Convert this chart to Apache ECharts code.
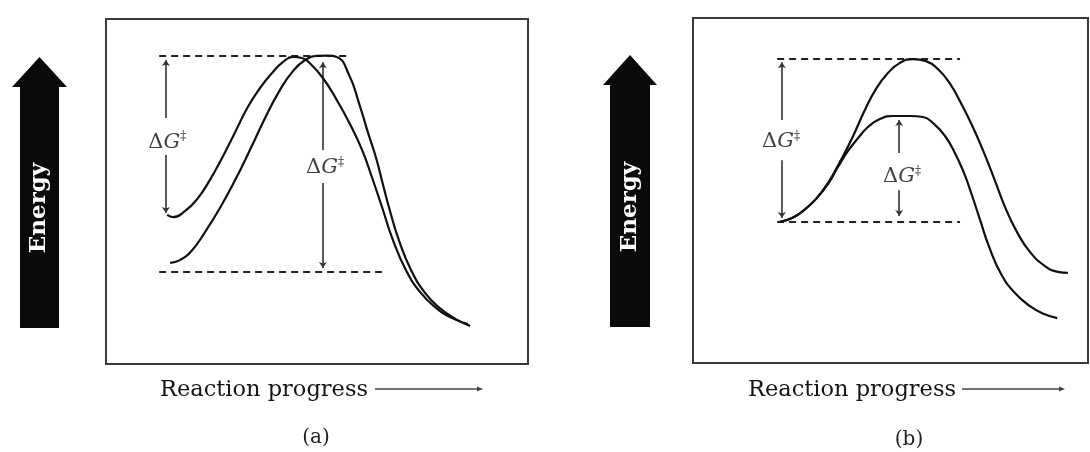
<!DOCTYPE html>
<html>
<head>
<meta charset="utf-8">
<script src="https://cdn.jsdelivr.net/npm/echarts@6/dist/echarts.min.js"></script>
<style>
  html, body { margin: 0; padding: 0; background: #fff; }
  #main { width: 1090px; height: 452px; }
</style>
</head>
<body>
<div id="main"></div>
<script>
// units: x = reaction progress 0-100, y = energy 0-100 (inside each box)

// panel (a): substrate raised, same transition state
var curveA1 = [[14.5, 43.2], [15.9, 42.6], [18.7, 44.3], [21.6, 47.8], [24.6, 53.3], [27.5, 59.7], [30.6, 67.2], [33.6, 74.5], [36.5, 80.0], [39.3, 84.3], [41.9, 87.5], [44.3, 89.0], [46.4, 88.7], [48.3, 87.2], [51.4, 82.9], [54.7, 76.5], [57.8, 69.6], [60.7, 62.0], [63.0, 54.2], [65.4, 45.5], [68.0, 35.9], [71.1, 27.2], [74.4, 20.9], [78.0, 16.5], [82.0, 13.3], [85.8, 11.6]];
var curveA2 = [[15.2, 29.3], [17.5, 30.1], [20.4, 33.0], [23.5, 38.3], [27.0, 45.2], [30.6, 53.3], [34.1, 62.0], [37.7, 71.3], [41.2, 79.4], [44.3, 84.9], [47.2, 88.1], [50.0, 89.3], [52.4, 89.4], [54.7, 89.0], [57.6, 83.8], [60.0, 75.4], [62.1, 67.0], [64.0, 59.7], [65.6, 52.2], [67.1, 45.2], [69.4, 35.9], [72.3, 27.2], [75.6, 20.6], [79.1, 16.2], [82.9, 13.0], [86.3, 11.0]];
var dashTopA = [[12.6, 89.3], [57.3, 89.3]];
var dashBottomA = [[12.6, 26.7], [65.4, 26.7]];
var arrowsA = [
  [[14.2, 71.3], [14.2, 88.1]],
  [[14.2, 60.6], [14.2, 43.8]],
  [[51.4, 62.0], [51.4, 87.5]],
  [[51.4, 52.5], [51.4, 27.8]]
];
var labelsA = [[14.5, 64.3], [51.9, 56.8]];

// panel (b): transition state lowered
var curveB1 = [[22.0, 40.9], [25.1, 42.0], [28.1, 44.3], [31.1, 47.5], [34.2, 52.2], [37.2, 58.3], [40.3, 65.2], [43.3, 72.8], [46.3, 79.4], [49.4, 84.1], [52.4, 87.0], [55.7, 88.1], [59.0, 87.5], [62.0, 85.2], [65.1, 80.9], [67.8, 75.4], [70.6, 69.0], [73.4, 61.7], [76.2, 53.6], [79.0, 45.2], [82.0, 38.0], [85.3, 32.2], [89.1, 28.1], [92.4, 26.4], [94.9, 26.1]];
var curveB2 = [[22.0, 40.9], [25.1, 42.0], [28.1, 44.3], [31.1, 47.5], [34.2, 51.9], [36.7, 56.8], [39.2, 61.4], [41.8, 65.2], [44.3, 68.4], [47.3, 70.7], [50.6, 71.6], [55.0, 71.6], [58.2, 71.3], [61.0, 69.3], [63.8, 65.8], [66.3, 60.9], [68.6, 55.1], [70.6, 48.7], [72.7, 41.4], [74.9, 33.9], [78.0, 25.8], [81.5, 20.3], [85.3, 16.5], [88.9, 14.2], [92.2, 13.0]];
var dashTopB = [[21.3, 88.1], [67.6, 88.1]];
var dashBottomB = [[21.3, 40.9], [67.6, 40.9]];
var arrowsB = [
  [[22.5, 70.4], [22.5, 87.2]],
  [[22.5, 58.8], [22.5, 42.0]],
  [[52.2, 60.9], [52.2, 70.4]],
  [[52.2, 50.1], [52.2, 42.6]]
];
var labelsB = [[22.3, 64.1], [52.9, 53.9]];

var axisLabel = 'Reaction progress';
var energyLabel = 'Energy';
var panelNames = ['(a)', '(b)'];

var serif = '"DejaVu Serif", "Liberation Serif", serif';

function curve(data, idx) {
  return {
    type: 'line', xAxisIndex: idx, yAxisIndex: idx, data: data,
    smooth: 0.5, showSymbol: false, silent: true,
    lineStyle: { color: '#111', width: 2.2 }
  };
}
function dashed(data, idx) {
  return {
    type: 'line', xAxisIndex: idx, yAxisIndex: idx, data: data,
    showSymbol: false, silent: true,
    lineStyle: { color: '#222', width: 2, type: [7, 5] }
  };
}
function arrows(list, idx) {
  return {
    type: 'lines', coordinateSystem: 'cartesian2d', xAxisIndex: idx, yAxisIndex: idx,
    symbol: ['none', 'arrow'], symbolSize: 6, silent: true,
    lineStyle: { color: '#333', width: 1.6, opacity: 1, curveness: 0 },
    data: list.map(function (c) { return { coords: c }; })
  };
}
function labels(list, idx) {
  return {
    type: 'scatter', xAxisIndex: idx, yAxisIndex: idx, data: list,
    symbolSize: 0, silent: true,
    label: {
      show: true, position: 'inside', color: '#111',
      formatter: '{d|Δ}{g|G}{s|‡}',
      rich: {
        d: { fontFamily: serif, fontSize: 21, color: '#111' },
        g: { fontFamily: serif, fontSize: 21, fontStyle: 'italic', color: '#111' },
        s: { fontFamily: serif, fontSize: 12, color: '#111', verticalAlign: 'top', padding: [0, 0, 10, 0] }
      }
    }
  };
}

// big "Energy" arrow drawn as a polygon
function energyArrow(cx, tip, base, bottom, half, headHalf, textY) {
  return [{
    type: 'polygon', silent: true,
    shape: { points: [[cx, tip], [cx + headHalf, base], [cx + half, base], [cx + half, bottom], [cx - half, bottom], [cx - half, base], [cx - headHalf, base]] },
    style: { fill: '#0a0a0a' }
  }, {
    type: 'text', x: cx, y: textY, rotation: Math.PI / 2, silent: true,
    style: { text: energyLabel, fill: '#fff', font: 'bold 23px ' + serif, align: 'center', verticalAlign: 'middle' }
  }];
}
function progressLabel(x, y, lineFrom, lineTo) {
  return [{
    type: 'text', x: x, y: y, silent: true,
    style: { text: axisLabel, fill: '#151515', font: '22.5px ' + serif, align: 'left', verticalAlign: 'middle' }
  }, {
    type: 'line', silent: true,
    shape: { x1: lineFrom, y1: y - 1, x2: lineTo, y2: y - 1 },
    style: { stroke: '#444', lineWidth: 1.5 }
  }, {
    type: 'polygon', silent: true,
    shape: { points: [[lineTo + 3, y - 1], [lineTo - 3, y - 3.5], [lineTo - 3, y + 1.5]] },
    style: { fill: '#444' }
  }];
}
function panelName(text, x, y) {
  return {
    type: 'text', x: x, y: y, silent: true,
    style: { text: text, fill: '#222', font: '20px ' + serif, align: 'center', verticalAlign: 'middle' }
  };
}

var myChart = echarts.init(document.getElementById('main'));

var hidden = { type: 'value', min: 0, max: 100, show: false };

var option = {
  animation: false,
  backgroundColor: '#fff',
  grid: [
    { left: 106, top: 19, width: 422, height: 345, show: true, borderColor: '#3a3a3a', borderWidth: 2, backgroundColor: 'transparent' },
    { left: 693, top: 18, width: 395, height: 345, show: true, borderColor: '#3a3a3a', borderWidth: 2, backgroundColor: 'transparent' }
  ],
  xAxis: [
    Object.assign({ gridIndex: 0 }, hidden),
    Object.assign({ gridIndex: 1 }, hidden)
  ],
  yAxis: [
    Object.assign({ gridIndex: 0 }, hidden),
    Object.assign({ gridIndex: 1 }, hidden)
  ],
  series: [
    dashed(dashTopA, 0), dashed(dashBottomA, 0),
    curve(curveA1, 0), curve(curveA2, 0),
    arrows(arrowsA, 0), labels(labelsA, 0),
    dashed(dashTopB, 1), dashed(dashBottomB, 1),
    curve(curveB1, 1), curve(curveB2, 1),
    arrows(arrowsB, 1), labels(labelsB, 1)
  ],
  graphic: [].concat(
    energyArrow(39.5, 57, 87, 328, 19.5, 27.5, 208),
    energyArrow(630, 55, 85, 327, 20, 27, 207),
    progressLabel(160, 390, 375, 480),
    progressLabel(748, 390, 962, 1062),
    [panelName(panelNames[0], 316, 438), panelName(panelNames[1], 909, 440)]
  )
};

myChart.setOption(option);
window.addEventListener('resize', function () {
  myChart.resize();
});
</script>
</body>
</html>
